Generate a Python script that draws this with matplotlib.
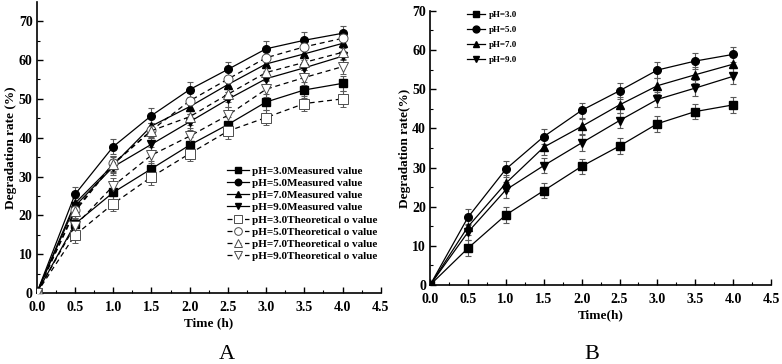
import matplotlib
matplotlib.use("Agg")
import matplotlib.pyplot as plt
import numpy as np

plt.rcParams['font.family'] = ['Liberation Serif', 'DejaVu Serif']
plt.rcParams['font.weight'] = 'bold'

time = [0, 0.5, 1.0, 1.5, 2.0, 2.5, 3.0, 3.5, 4.0]

# Panel A: measured values
a_meas_ph3 = [0, 17.8, 25.9, 32.0, 38.1, 43.4, 49.2, 52.3, 54.0]
a_meas_ph5 = [0, 25.4, 37.7, 45.7, 52.4, 57.6, 62.9, 65.1, 66.9]
a_meas_ph7 = [0, 23.1, 33.0, 43.0, 48.0, 53.7, 59.0, 61.6, 64.3]
a_meas_ph9 = [0, 22.4, 32.5, 38.3, 44.1, 49.9, 55.2, 58.0, 61.0]
# Panel A: theoretical values
a_theo_ph3 = [0, 14.9, 23.0, 29.9, 35.9, 41.7, 45.2, 48.8, 50.0]
a_theo_ph5 = [0, 21.4, 33.4, 41.9, 49.5, 55.1, 60.6, 63.4, 65.6]
a_theo_ph7 = [0, 21.0, 33.2, 41.8, 45.4, 51.2, 56.8, 59.4, 62.0]
a_theo_ph9 = [0, 17.3, 27.6, 35.5, 40.4, 45.8, 52.5, 55.5, 58.3]
a_err = [0, 2, 2, 2, 2, 2, 2, 2, 2]

# Panel B
b_ph3 = [0, 9.4, 17.9, 24.1, 30.3, 35.5, 41.2, 44.3, 46.0]
b_ph5 = [0, 17.3, 29.6, 37.9, 44.6, 49.6, 54.9, 57.2, 58.9]
b_ph7 = [0, 14.9, 26.0, 35.2, 40.5, 46.0, 50.9, 53.7, 56.4]
b_ph9 = [0, 13.5, 24.3, 30.5, 36.3, 42.0, 47.4, 50.3, 53.3]
b_err = [0, 2, 2, 2, 2, 2, 2, 2, 2]

a_meas_labels = ['pH=3.0Measured value', 'pH=5.0Measured value',
                 'pH=7.0Measured value', 'pH=9.0Measured value']
a_theo_labels = ['pH=3.0Theoretical o value', 'pH=5.0Theoretical o value',
                 'pH=7.0Theoretical o value', 'pH=9.0Theoretical o value']
b_labels = ['pH=3.0', 'pH=5.0', 'pH=7.0', 'pH=9.0']
markers = ['s', 'o', '^', 'v']

fig = plt.figure(figsize=(7.82, 3.64), dpi=100)
axA = fig.add_axes([0.047, 0.195, 0.440, 0.80])
axB = fig.add_axes([0.550, 0.217, 0.436, 0.753])


def style(ax, ymax, ylabel, xlabel):
    ax.set_xlim(0, 4.5)
    ax.set_ylim(0, ymax)
    ax.set_xticks(np.arange(0, 4.51, 0.5))
    ax.set_yticks(np.arange(0, 71, 10))
    ax.set_xticks(np.arange(0.25, 4.5, 0.5), minor=True)
    ax.set_yticks(np.arange(5, ymax, 10), minor=True)
    ax.set_xticklabels([f'{v:.1f}' for v in np.arange(0, 4.51, 0.5)])
    ax.tick_params(direction='in', which='major', length=4, width=1, labelsize=10)
    ax.tick_params(axis='x', which='major', pad=6)
    ax.tick_params(axis='y', which='major', pad=3)
    ax.tick_params(direction='in', which='minor', length=2, width=0.8)
    for s in ['top', 'right']:
        ax.spines[s].set_visible(False)
    for s in ['left', 'bottom']:
        ax.spines[s].set_linewidth(1.2)
    ax.set_ylabel(ylabel, fontsize=9.5, fontweight='bold', labelpad=1)
    ax.set_xlabel(xlabel, fontsize=9.5, fontweight='bold', labelpad=2)
    for lab in ax.get_xticklabels() + ax.get_yticklabels():
        lab.set_fontweight('bold')


handles = []
for vals, m, lab in zip([a_meas_ph3, a_meas_ph5, a_meas_ph7, a_meas_ph9], markers, a_meas_labels):
    h = axA.errorbar(time, vals, yerr=a_err, color='black', marker=m, markersize=5.5,
                     linewidth=0.9, ecolor='0.35', elinewidth=0.8, capsize=2.5,
                     capthick=0.8, label=lab, zorder=3)
    handles.append(h[0])
for vals, m, lab in zip([a_theo_ph3, a_theo_ph5, a_theo_ph7, a_theo_ph9], markers, a_theo_labels):
    h = axA.errorbar(time, vals, yerr=a_err, color='black', marker=m, markersize=6.5,
                     markerfacecolor='white', markeredgecolor='0.3', markeredgewidth=0.7,
                     linestyle=(0, (4, 3)), linewidth=0.9, ecolor='0.35', elinewidth=0.8,
                     capsize=2.5, capthick=0.8, label=lab, zorder=3)
    handles.append(h[0])

style(axA, 75, 'Degradation rate (%)', 'Time (h)')
axA.legend(handles=handles, labels=a_meas_labels + a_theo_labels,
           loc='lower right', bbox_to_anchor=(1.02, 0.075), frameon=False,
           handlelength=2.0, handletextpad=0.3, labelspacing=0.22, markerscale=0.85,
           prop={'weight': 'bold', 'size': 8, 'family': 'Liberation Serif'})

handlesB = []
for vals, m, lab in zip([b_ph3, b_ph5, b_ph7, b_ph9], markers, b_labels):
    h = axB.errorbar(time, vals, yerr=b_err, color='black', marker=m, markersize=5.5,
                     linewidth=0.9, ecolor='0.35', elinewidth=0.8, capsize=2.5,
                     capthick=0.8, label=lab, zorder=3)
    handlesB.append(h[0])
style(axB, 70, 'Degradation rate(%)', 'Time(h)')
axB.legend(handles=handlesB, labels=b_labels,
           loc='upper left', bbox_to_anchor=(0.085, 1.03), frameon=False,
           handlelength=2.0, handletextpad=0.4, labelspacing=0.75, markerscale=0.9,
           prop={'weight': 'bold', 'size': 6.5, 'family': 'Liberation Serif'})

fig.text(0.290, 0.027, 'A', fontsize=16, fontweight='normal', ha='center', va='center')
fig.text(0.757, 0.027, 'B', fontsize=16, fontweight='normal', ha='center', va='center')

fig.savefig('out.png', dpi=100)
